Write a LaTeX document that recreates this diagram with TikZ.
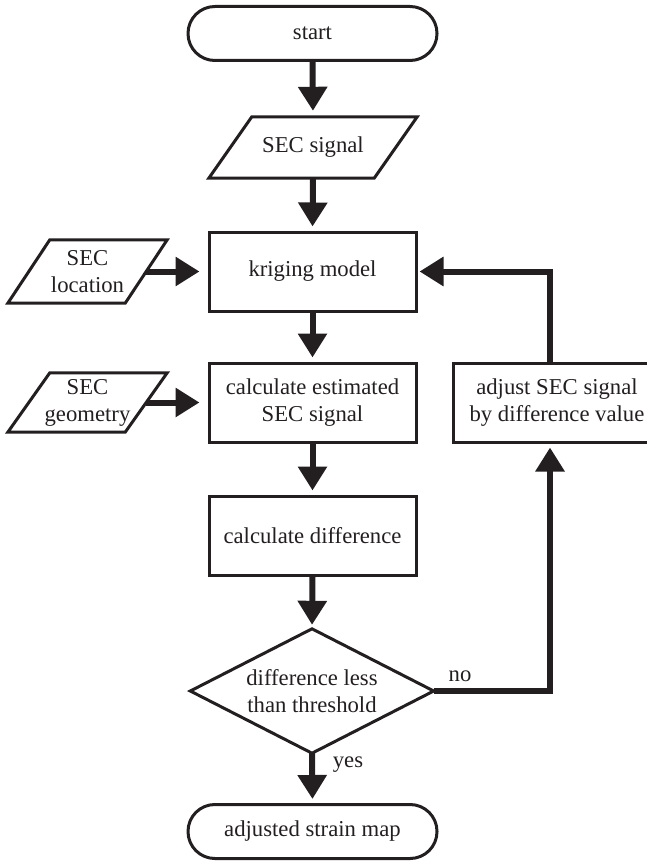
\documentclass[tikz,border=0pt]{standalone}
\usepackage{fontspec}
\setmainfont{Liberation Serif}
\usetikzlibrary{arrows.meta,calc}
\definecolor{ink}{HTML}{231F20}
\begin{document}
\begin{tikzpicture}[x=1pt,y=-1pt,
  every node/.style={font=\fontsize{22.7}{27}\selectfont, text=ink, align=center, inner sep=0pt},
  box/.style={draw=ink, line width=3pt, minimum width=207pt, minimum height=79pt},
  term/.style={draw=ink, line width=3pt, rounded corners=26.9pt, minimum width=249pt, minimum height=54pt},
  iotext/.style={minimum width=#1, minimum height=62pt},
  outline/.style={draw=ink, line width=3pt, line join=miter},
  flow/.style={draw=ink, line width=6pt, -{Triangle[width=28pt,length=24pt]}, shorten >=4pt},
  side/.style={flow, shorten >=8pt},
]
\useasboundingbox (0,0) rectangle (647,861);

% nodes
\node[term] (start) at (312.5,33.5) {start};
\node[iotext=165pt, minimum height=61pt] (sig) at (313,147.5) {SEC signal};
\node[box] (krig) at (312.5,271.5) {kriging model};
\node[iotext=117pt, minimum height=63pt] (loc) at (87.5,271.5) {SEC\\location};
\node[box] (est) at (312.5,402.5) {calculate estimated\\SEC signal};
\node[iotext=117pt, minimum height=59pt] (geo) at (87.5,402.5) {SEC\\geometry};
\node[box] (diff) at (312.5,535.5) {calculate difference};
\node[minimum width=243pt, minimum height=124pt] (dia) at (312,691) {difference less\\than threshold};
\node[box, minimum width=208pt] (adj) at (557,402.5) {adjust SEC signal\\by difference value};
\node[term] (stop) at (312.5,831.5) {adjusted strain map};
\node (no) at (460,676) {no};
\node (yes) at (348,765) {yes};

% parallelograms
\foreach \n/\s in {sig/43, loc/42, geo/42}{
  \draw[outline] ($(\n.south west)+(-\s/2,0)$) -- ($(\n.north west)+(\s/2,0)$)
     -- ($(\n.north east)+(\s/2,0)$) -- ($(\n.south east)+(-\s/2,0)$) -- cycle;
}
% diamond
\draw[outline] (dia.north) -- (dia.east) -- (dia.south) -- (dia.west) -- cycle;

% connectors
\draw[flow, shorten >=6pt] (start.south) -- (sig.north);
\draw[flow] (sig.south) -- (krig.north);
\draw[flow] (krig.south) -- (est.north);
\draw[flow] (est.south) -- (diff.north);
\draw[flow] (diff.south) -- (dia.north);
\draw[flow] (dia.south) -- (stop.north);
\draw[side] (loc.east) -- (krig.west);
\draw[side] (geo.east) -- (est.west);

\coordinate (c1) at (550,691);
\draw[flow] (dia.east) -- (c1) -- (c1 |- adj.south);
\draw[flow, shorten >=2pt] (c1 |- adj.north) |- (krig.east);
\end{tikzpicture}
\end{document}
